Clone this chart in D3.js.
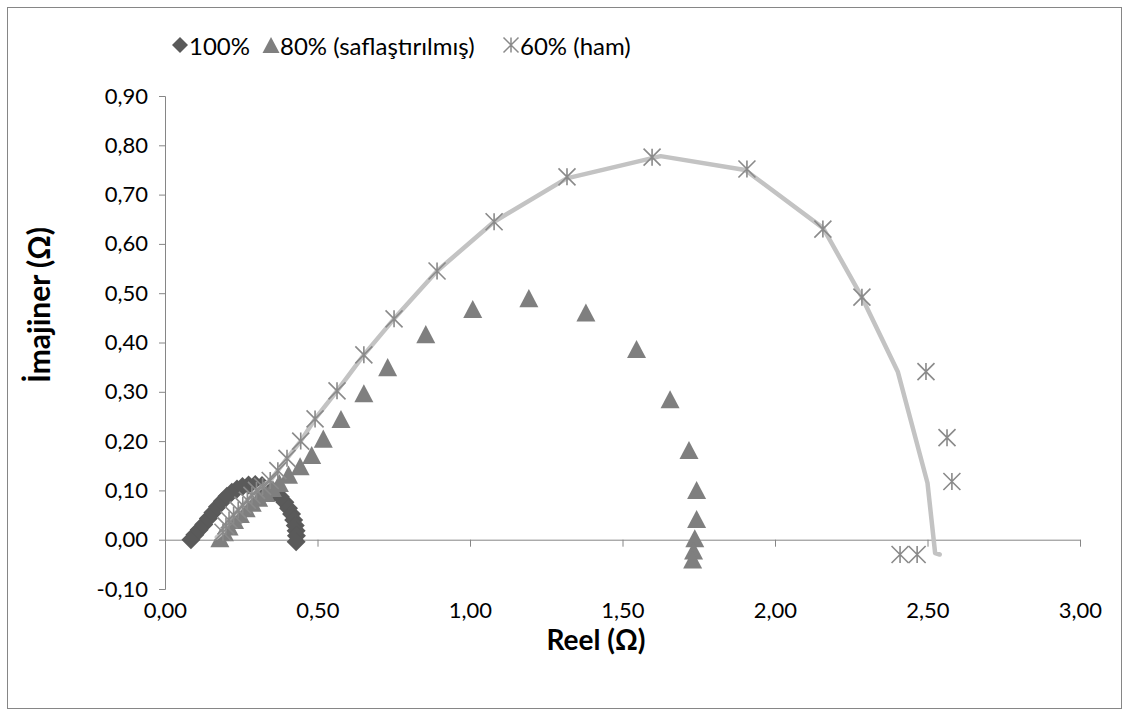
<!DOCTYPE html>
<html>
<head>
<meta charset="utf-8">
<script src="https://cdn.jsdelivr.net/npm/d3@7"></script>
<style>
  html, body { margin: 0; padding: 0; background: #fff; }
  svg { display: block; font-family: Lato, "Open Sans", sans-serif; }
</style>
</head>
<body>
<svg id="chart" width="1131" height="717"></svg>
<script>
// Nyquist plot: real vs imaginary impedance for three samples

// 100%
const re100 = [0.085,0.098,0.112,0.127,0.142,0.157,0.172,0.188,0.203,0.219,0.236,0.254,0.274,0.296,0.318,0.340,0.360,0.378,0.393,0.405,0.415,0.422,0.427,0.430,0.431,0.430];
const im100 = [0.000,0.010,0.020,0.031,0.043,0.055,0.067,0.078,0.088,0.096,0.103,0.108,0.111,0.112,0.110,0.105,0.097,0.087,0.076,0.064,0.052,0.040,0.029,0.018,0.008,-0.004];

// 80% (saflaştırılmış)
const re80 = [0.180,0.195,0.210,0.228,0.247,0.266,0.286,0.307,0.330,0.352,0.375,0.405,0.443,0.481,0.519,0.577,0.652,0.730,0.855,1.009,1.193,1.380,1.546,1.656,1.718,1.743,1.743,1.737,1.733,1.730];
const im80 = [0.003,0.015,0.027,0.040,0.052,0.064,0.075,0.085,0.095,0.105,0.115,0.132,0.149,0.172,0.205,0.245,0.297,0.350,0.417,0.468,0.490,0.461,0.387,0.285,0.182,0.101,0.042,0.003,-0.022,-0.040];

// 60% (ham)
const re60 = [0.190,0.200,0.210,0.225,0.240,0.255,0.270,0.285,0.300,0.320,0.345,0.370,0.400,0.445,0.492,0.564,0.652,0.751,0.892,1.079,1.318,1.597,1.908,2.157,2.285,2.495,2.564,2.580,2.410,2.466];
const im60 = [0.015,0.028,0.040,0.050,0.060,0.070,0.080,0.090,0.100,0.108,0.120,0.140,0.165,0.200,0.245,0.302,0.375,0.448,0.545,0.645,0.736,0.776,0.752,0.630,0.492,0.341,0.207,0.118,-0.030,-0.030];

// fitted curve drawn as a plain line
const reFit = [0.170,0.190,0.210,0.240,0.270,0.300,0.345,0.400,0.445,0.492,0.564,0.652,0.751,0.892,1.079,1.317,1.625,1.902,2.158,2.284,2.403,2.500,2.525,2.540];
const imFit = [0.005,0.015,0.040,0.060,0.080,0.100,0.120,0.165,0.200,0.245,0.302,0.375,0.448,0.545,0.645,0.733,0.778,0.750,0.632,0.493,0.340,0.115,-0.027,-0.030];

const xTicks = [0, 0.5, 1, 1.5, 2, 2.5, 3];
const yTicks = [-0.1, 0, 0.1, 0.2, 0.3, 0.4, 0.5, 0.6, 0.7, 0.8, 0.9];

const seriesNames = ["100%", "80% (saflaştırılmış)", "60% (ham)"];
const xTitle = "Reel (Ω)";
const yTitle = "İmajiner (Ω)";

const zip = (a, b) => a.map((v, i) => [v, b[i]]);

const svg = d3.select("#chart");
const axisColor = "#868686";
const fmt = d3.formatLocale({decimal: ",", thousands: ".", grouping: [3], currency: ["", ""], minus: "-"}).format(".2f");

const x = d3.scaleLinear().domain([0, 3]).range([165, 1080]);
const y = d3.scaleLinear().domain([-0.1, 0.9]).range([589, 96]);

// outer chart frame
svg.append("rect")
  .attr("x", 7.5).attr("y", 7.5).attr("width", 1114).attr("height", 701)
  .attr("fill", "none").attr("stroke", axisColor).attr("stroke-width", 1);

// custom marker shapes
const triangleType = {
  draw(ctx, size) {
    const w = Math.sqrt(size);
    const h = w * 0.95;
    ctx.moveTo(0, -h / 2);
    ctx.lineTo(w / 2, h / 2);
    ctx.lineTo(-w / 2, h / 2);
    ctx.closePath();
  }
};
const diamondType = {
  draw(ctx, size) {
    const r = Math.sqrt(size) / 2;
    ctx.moveTo(0, -r);
    ctx.lineTo(r, 0);
    ctx.lineTo(0, r);
    ctx.lineTo(-r, 0);
    ctx.closePath();
  }
};
const starType = {
  draw(ctx, size) {
    const r = Math.sqrt(size) / 2;
    ctx.moveTo(-r, -r); ctx.lineTo(r, r);
    ctx.moveTo(r, -r); ctx.lineTo(-r, r);
    ctx.moveTo(0, -r); ctx.lineTo(0, r);
  }
};

const diamondSym = d3.symbol().type(diamondType).size(19 * 19);
const triangleSym = d3.symbol().type(triangleType).size(19 * 19);
const starSym = d3.symbol().type(starType).size(17 * 17);

const cDiamond = "#5a5a5a", cTriangle = "#7f7f7f", cStar = "#8a8a8a", cLine = "#c3c3c3";

// Y axis
const yAxis = svg.append("g")
  .attr("transform", `translate(${x(0)},0)`)
  .call(d3.axisLeft(y).tickValues(yTicks).tickFormat(fmt).tickSize(6).tickPadding(11));
yAxis.select(".domain").attr("stroke", axisColor);
yAxis.selectAll(".tick line").attr("stroke", axisColor);
yAxis.selectAll(".tick text").attr("font-size", 22).attr("fill", "#000").attr("font-family", "Lato, sans-serif");

// X axis line at zero with ticks
const xAxis = svg.append("g")
  .attr("transform", `translate(0,${y(0)})`)
  .call(d3.axisBottom(x).tickValues(xTicks).tickFormat("").tickSize(7).tickSizeOuter(0));
xAxis.select(".domain").attr("stroke", axisColor);
xAxis.selectAll(".tick line").attr("stroke", axisColor);

// X tick labels below the plot area
const xLabels = svg.append("g")
  .attr("transform", `translate(0,${y(-0.1)})`)
  .call(d3.axisBottom(x).tickValues(xTicks).tickFormat(fmt).tickSize(0).tickPadding(13));
xLabels.select(".domain").remove();
xLabels.selectAll(".tick text").attr("font-size", 22).attr("fill", "#000").attr("font-family", "Lato, sans-serif");

// axis titles
svg.append("text")
  .attr("x", 596).attr("y", 650)
  .attr("text-anchor", "middle")
  .attr("font-size", 28).attr("font-weight", "bold")
  .text(xTitle);
svg.append("text")
  .attr("transform", "translate(50,305) rotate(-90)")
  .attr("text-anchor", "middle")
  .attr("font-size", 30).attr("font-weight", "bold")
  .text(yTitle);

// series 100%
svg.append("g").selectAll("path")
  .data(zip(re100, im100)).join("path")
  .attr("d", diamondSym)
  .attr("transform", d => `translate(${x(d[0])},${y(d[1])})`)
  .attr("fill", cDiamond);

// series 80%
svg.append("g").selectAll("path")
  .data(zip(re80, im80)).join("path")
  .attr("d", triangleSym)
  .attr("transform", d => `translate(${x(d[0])},${y(d[1])})`)
  .attr("fill", cTriangle);

// fitted line
svg.append("path")
  .datum(zip(reFit, imFit))
  .attr("d", d3.line().x(d => x(d[0])).y(d => y(d[1])))
  .attr("fill", "none").attr("stroke", cLine).attr("stroke-width", 4.5)
  .attr("stroke-linejoin", "round").attr("stroke-linecap", "round");

// series 60%
svg.append("g").selectAll("path")
  .data(zip(re60, im60)).join("path")
  .attr("d", starSym)
  .attr("transform", d => `translate(${x(d[0])},${y(d[1])})`)
  .attr("fill", "none").attr("stroke", cStar).attr("stroke-width", 1.6);

// legend
const legendItems = [
  {name: seriesNames[0], sym: d3.symbol().type(diamondType).size(16 * 16), fill: cDiamond, stroke: "none", mx: 180},
  {name: seriesNames[1], sym: d3.symbol().type(triangleType).size(17 * 17), fill: cTriangle, stroke: "none", mx: 271},
  {name: seriesNames[2], sym: d3.symbol().type(starType).size(15 * 15), fill: "none", stroke: cStar, mx: 511}
];
const lg = svg.append("g");
legendItems.forEach(it => {
  lg.append("path").attr("d", it.sym)
    .attr("transform", `translate(${it.mx},45)`)
    .attr("fill", it.fill).attr("stroke", it.stroke).attr("stroke-width", 1.5);
  lg.append("text")
    .attr("x", it.mx + 9).attr("y", 45)
    .attr("dominant-baseline", "central")
    .attr("font-size", 24)
    .text(it.name);
});
</script>
</body>
</html>
